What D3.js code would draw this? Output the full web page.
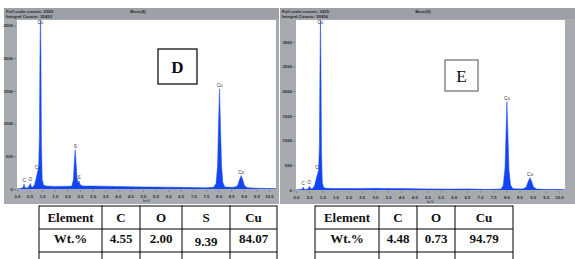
<!DOCTYPE html>
<html><head><meta charset="utf-8">
<script src="https://cdn.jsdelivr.net/npm/d3@7"></script>
<style>
html,body{margin:0;padding:0;background:#fff;}
svg{display:block;}
</style></head>
<body>
<svg id="c" width="575" height="259"></svg>
<script>
// ---------- DATA ----------
const energyD = [0.00,0.10,0.20,0.25,0.28,0.31,0.38,0.45,0.50,0.53,0.57,0.63,0.70,0.76,0.82,0.86,0.89,0.91,0.93,0.95,0.97,1.00,1.05,1.15,1.5,2.0,2.18,2.24,2.28,2.31,2.34,2.38,2.42,2.46,2.50,2.6,3.0,3.5,4.0,4.5,5.0,5.5,6.0,6.5,7.0,7.5,7.8,7.9,7.96,8.0,8.04,8.08,8.12,8.17,8.25,8.6,8.75,8.83,8.9,8.96,9.03,9.15,9.5,10.0,10.3];
const countsD = [0,4,12,35,75,25,15,25,60,85,35,25,70,160,270,330,800,2000,2700,2000,700,150,60,45,40,42,45,150,450,600,420,180,90,125,70,45,45,42,38,35,32,30,28,25,22,20,25,80,350,1000,1530,900,350,100,30,25,45,140,205,140,50,20,12,8,5];

const energyE = [0.00,0.10,0.20,0.25,0.27,0.30,0.38,0.46,0.51,0.55,0.62,0.70,0.76,0.82,0.86,0.89,0.91,0.93,0.95,0.97,1.00,1.05,1.15,1.5,2.0,2.5,3.0,3.5,4.0,4.5,5.0,5.5,6.0,6.5,7.0,7.5,7.8,7.88,7.95,7.99,8.02,8.06,8.10,8.16,8.25,8.6,8.75,8.83,8.9,8.96,9.03,9.15,9.5,10.0,10.25];
const countsE = [0,4,10,30,60,20,12,25,75,30,25,80,200,330,400,900,2400,3500,2400,800,150,50,35,30,30,32,34,30,28,25,22,20,18,22,15,14,20,90,450,1200,1790,1100,400,100,25,20,50,170,250,170,60,20,10,8,5];

const peakLabelsD = ["C","O","Cu","Cu","S","S","Cu","Cu"];
const peakEnergyD = [0.28,0.53,0.82,0.93,2.31,2.46,8.04,8.90];
const peakCountD  = [75,85,270,2700,600,125,1530,205];

const peakLabelsE = ["C","O","Cu","Cu","Cu","Cu"];
const peakEnergyE = [0.27,0.51,0.84,0.93,8.02,8.90];
const peakCountE  = [60,75,380,3500,1790,250];

const yTicksD = [0,500,1000,1500,2000,2500];
const yTicksE = [0,500,1000,1500,2000,2500,3000];
const xTicks = ["0.0","0.5","1.0","1.5","2.0","2.5","3.0","3.5","4.0","4.5","5.0","5.5","6.0","6.5","7.0","7.5","8.0","8.5","9.0","9.5","10.0"];

const tableHeadD = ["Element","C","O","S","Cu"];
const tableValsD = ["Wt.%","4.55","2.00","9.39","84.07"];
const tableHeadE = ["Element","C","O","Cu"];
const tableValsE = ["Wt.%","4.48","0.73","94.79"];

const headerD = ["Full scale counts: 2559","Integral Counts: 35453","Base(4)"];
const headerE = ["Full scale counts: 3435","Integral Counts: 59956","Base(5)"];

// ---------- DRAW ----------
const svg = d3.select("#c");
const blue = "#1346f2";

function panel(o){
  const g = svg.append("g");
  // frame
  g.append("rect").attr("x",o.fx0).attr("y",8).attr("width",o.fx1-o.fx0).attr("height",196).attr("fill","#a7abb0");
  g.append("rect").attr("x",o.fx0).attr("y",8).attr("width",o.fx1-o.fx0).attr("height",11).attr("fill","#9da1a7");
  // header text
  const ht = {"font-family":"Liberation Sans, Arial, sans-serif","font-size":"4.3px","fill":"#2a2a2a","font-weight":"bold"};
  const t1 = g.append("text").attr("x",o.fx0+2).attr("y",13).text(o.header[0]);
  const t2 = g.append("text").attr("x",o.fx0+2).attr("y",18).text(o.header[1]);
  const t3 = g.append("text").attr("x",o.titleX).attr("y",13).attr("text-anchor","middle").text(o.header[2]);
  [t1,t2,t3].forEach(t=>Object.entries(ht).forEach(([k,v])=>t.attr(k,v)));

  const x = d3.scaleLinear().domain([0,o.xmax]).range([o.px0,o.px1]);
  const y = d3.scaleLinear().domain([0,o.ymax]).range([o.py1,o.py0]);

  g.append("rect").attr("x",o.px0).attr("y",o.py0).attr("width",o.px1-o.px0).attr("height",o.py1-o.py0).attr("fill","#fff");

  const clipId = "clip"+o.id;
  svg.append("clipPath").attr("id",clipId).append("rect")
    .attr("x",o.px0).attr("y",o.py0).attr("width",o.px1-o.px0).attr("height",o.py1-o.py0);

  const data = o.energy.map((e,i)=>[e,o.counts[i]]);
  const area = d3.area().x(d=>x(d[0])).y0(y(0)).y1(d=>y(d[1]));
  g.append("path").datum(data).attr("d",area).attr("fill",blue).attr("stroke",blue).attr("stroke-width",0.5)
    .attr("clip-path","url(#"+clipId+")");

  // axes
  const yAxis = d3.axisLeft(y).tickValues(o.yTicks).tickSize(2).tickPadding(1).tickFormat(d3.format("d"));
  const ya = g.append("g").attr("transform",`translate(${o.px0-1},0)`).call(yAxis);
  ya.select(".domain").remove();
  ya.selectAll("line").attr("stroke","#444").attr("stroke-width",0.5);
  ya.selectAll("text").attr("font-size","4.3px").attr("font-family","Liberation Sans, Arial, sans-serif").attr("fill","#2a2a2a").attr("font-weight","bold");

  const xAxis = d3.axisBottom(x).tickValues(xTicks.map(Number)).tickSize(2).tickPadding(3).tickFormat(d3.format(".1f"));
  const xa = g.append("g").attr("transform",`translate(0,${o.py1+1})`).call(xAxis);
  xa.select(".domain").remove();
  xa.selectAll("line").attr("stroke","#666").attr("stroke-width",0.5);
  xa.selectAll("text").attr("font-size","4.3px").attr("font-family","Liberation Sans, Arial, sans-serif").attr("fill","#2a2a2a").attr("font-weight","bold");
  g.append("text").attr("x",(o.px0+o.px1)/2).attr("y",o.py1+13).attr("text-anchor","middle")
    .attr("font-size","4px").attr("font-family","Liberation Sans, Arial, sans-serif").attr("fill","#2a2a2a").text("keV");

  // peak labels
  o.labels.forEach((l,i)=>{
    const py = Math.max(o.py0+4, y(o.pcount[i])-2);
    g.append("text").attr("x",x(o.penergy[i])).attr("y",py).attr("text-anchor","middle")
      .attr("font-size","4.6px").attr("font-family","Liberation Sans, Arial, sans-serif").attr("fill","#333").text(l);
  });

  // letter box
  g.append("rect").attr("x",o.box[0]).attr("y",o.box[1]).attr("width",o.box[2]).attr("height",o.box[3])
    .attr("fill","#fff").attr("stroke",o.boxStroke).attr("stroke-width",1.3);
  g.append("text").attr("x",o.box[0]+o.box[2]/2).attr("y",o.box[1]+o.box[3]/2+6).attr("text-anchor","middle")
    .attr("font-family","Liberation Serif, Times New Roman, serif").attr("font-size","17px")
    .attr("font-weight",o.boxWeight).attr("fill","#0a0a1a").text(o.letter);
}

panel({id:"D",fx0:4,fx1:279,px0:17,px1:276,py0:20,py1:189,xmax:10.28,ymax:2584,
  energy:energyD,counts:countsD,yTicks:yTicksD,labels:peakLabelsD,penergy:peakEnergyD,pcount:peakCountD,
  header:headerD,titleX:138,box:[158,49,39,35],boxStroke:"#111",boxWeight:"bold",letter:"D"});
panel({id:"E",fx0:280,fx1:575,px0:296,px1:565,py0:20,py1:190,xmax:10.23,ymax:3440,
  energy:energyE,counts:countsE,yTicks:yTicksE,labels:peakLabelsE,penergy:peakEnergyE,pcount:peakCountE,
  header:headerE,titleX:423,box:[445,60,33,31],boxStroke:"#777",boxWeight:"normal",letter:"E"});

// tables
function table(cols, head, vals, lowIdx){
  const g = svg.append("g");
  const rows = [206,229,252];
  rows.forEach(r=>g.append("line").attr("x1",cols[0]).attr("x2",cols[cols.length-1]).attr("y1",r).attr("y2",r)
    .attr("stroke","#000").attr("stroke-width",1));
  cols.forEach(c=>g.append("line").attr("x1",c).attr("x2",c).attr("y1",205.5).attr("y2",259)
    .attr("stroke","#000").attr("stroke-width",1));
  const tf = t=>t.attr("font-family","Liberation Serif, Times New Roman, serif").attr("font-size","13px")
    .attr("font-weight","bold").attr("fill","#111").attr("text-anchor","middle");
  head.forEach((h,i)=>tf(g.append("text").attr("x",(cols[i]+cols[i+1])/2).attr("y",222).text(h)));
  vals.forEach((v,i)=>tf(g.append("text").attr("x",(cols[i]+cols[i+1])/2).attr("y",i===lowIdx?246:243).text(v)));
}
table([39,102,140,182,230,277], tableHeadD, tableValsD, 3);
table([315,379,417,455,513], tableHeadE, tableValsE, -1);
</script>
</body></html>
